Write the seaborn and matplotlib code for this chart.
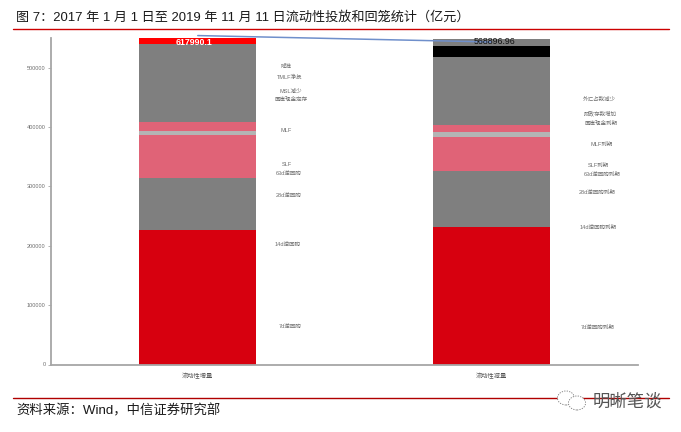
import matplotlib
matplotlib.use("Agg")
import matplotlib.pyplot as plt
import seaborn as sns
from matplotlib.lines import Line2D
from matplotlib.patches import Ellipse

sns.set_style("white")
plt.rcParams['font.family'] = ['Liberation Sans', 'Noto Sans CJK SC', 'DejaVu Sans']

# Data
categories = ["流动性增量", "流动性减量"]
inflow_segments = [226400, 88100, 71900, 7200, 14100, 131900, 9400, 700]
outflow_segments = [231500, 93800, 57200, 8500, 12700, 114500, 18000, 12600]
inflow_total_label = "617990.1"
outflow_total_label = "568896.96"
connector_values = [553800, 543000]
yticks = [0, 100000, 200000, 300000, 400000, 500000]
inflow_labels = ["降准", "TMLF净投", "MSL减少", "国库现金定存", "MLF", "SLF",
                 "63d逆回购", "28d逆回购", "14d逆回购", "7d逆回购"]
outflow_labels = ["外汇占款减少", "财政存款增加", "国库现金到期", "MLF到期", "SLF到期",
                  "63d逆回购到期", "28d逆回购到期", "14d逆回购到期", "7d逆回购到期"]
title = "图 7：2017 年 1 月 1 日至 2019 年 11 月 11 日流动性投放和回笼统计（亿元）"
source = "资料来源：Wind，中信证券研究部"
watermark = "明晰笔谈"

# Styles and layout
RED, GREY, PINK, LIGHT = "#D7000F", "#7F7F7F", "#E06377", "#B4B4B4"
inflow_colors = [RED, GREY, PINK, LIGHT, PINK, GREY, "#FF0000", GREY]
outflow_colors = [RED, GREY, PINK, LIGHT, PINK, GREY, "#000000", GREY]
W, H = 681, 432
inflow_label_xy = [(286, 66), (290, 77), (291, 91), (291, 100), (286, 131), (287, 164),
                   (289, 173), (289, 195), (288, 244), (290, 326)]
outflow_label_xy = [(599, 99), (600, 113), (601, 123), (602, 144), (598, 165),
                    (602, 174), (597, 192), (598, 227), (598, 327)]

fig = plt.figure(figsize=(W / 100, H / 100), dpi=100, facecolor="white")
ax = fig.add_axes([51 / W, (H - 364.5) / H, (638 - 51) / W, (364.5 - 38) / H])


def stack(idx, segments, colors):
    base = 0
    for seg, col in zip(segments, colors):
        sns.barplot(x=[categories[idx]], y=[seg], bottom=base, color=col, saturation=1,
                    width=0.4, order=categories, ax=ax, linewidth=0)
        base += seg


stack(0, inflow_segments, inflow_colors)
stack(1, outflow_segments, outflow_colors)

sns.lineplot(x=[0, 1], y=connector_values, color="#6F8FCB", lw=1.1, ax=ax, clip_on=False,
             zorder=5, errorbar=None, estimator=None, sort=False)

ax.set_xlim(-0.5, 1.5)
ax.set_ylim(0, 549700)
ax.set_yticks(yticks, [str(v) for v in yticks])
ax.set_xlabel("")
ax.set_ylabel("")
sns.despine(ax=ax, top=True, right=True)
for s in ("left", "bottom"):
    ax.spines[s].set_color("#A6A6A6")
    ax.spines[s].set_linewidth(1.3)
ax.tick_params(axis="y", left=True, length=2, width=0.6, color="#A6A6A6", direction="out",
               labelsize=4, labelcolor="#6E6E6E", pad=2)
ax.tick_params(axis="x", bottom=False, labelsize=4.5, labelcolor="#555555", pad=2.5)

ax.text(-0.012, 542500, inflow_total_label, color="white", fontsize=6.3, fontweight="bold",
        ha="center", va="center", zorder=6)
ax.text(1.012, 543000, outflow_total_label, color="#111111", fontsize=6.3,
        ha="center", va="center", zorder=6)


def px_text(x, y, s, **kw):
    fig.text(x / W, 1 - y / H, s, **kw)


for s, (x, y) in zip(inflow_labels + outflow_labels, inflow_label_xy + outflow_label_xy):
    px_text(x, y, s, fontsize=4, color="#6E6E6E", ha="center", va="center")

px_text(16, 17, title, fontsize=9.45, color="#1A1A1A", ha="left", va="center")
px_text(16, 411, source, fontsize=9.6, color="#1A1A1A", ha="left", va="center")

for y, col in ((28.5, "#CC0000"), (397.5, "#B00000")):
    fig.add_artist(Line2D([13 / W, 669 / W], [1 - y / H] * 2, color=col, lw=1.0))

# watermark
px_text(593, 402, watermark, fontsize=12.5, color="#555555", ha="left", va="center", zorder=10)
for cx, cy, w, h in ((566, 398, 17, 14), (577, 403, 17, 14)):
    fig.add_artist(Ellipse((cx / W, 1 - cy / H), w / W, h / H, fc="white", ec="#777777",
                           lw=0.6, ls=(0, (1.5, 1.5)), zorder=9))

fig.savefig("out.png", dpi=100, facecolor="white")
